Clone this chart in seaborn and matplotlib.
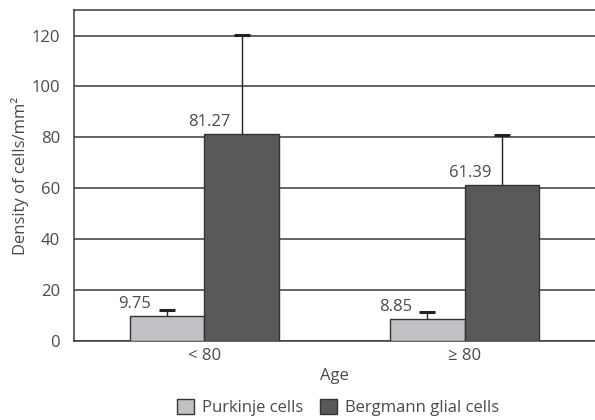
import matplotlib
matplotlib.use("Agg")
import matplotlib.pyplot as plt
import pandas as pd
import seaborn as sns

# values
age_groups = ["< 80", "≥ 80"]
cell_types = ["Purkinje cells", "Bergmann glial cells"]
purkinje_mean = [9.75, 8.85]
purkinje_err = [2.4, 2.6]
bergmann_mean = [81.27, 61.39]
bergmann_err = [39.0, 19.4]
y_ticks = [0, 20, 40, 60, 80, 100, 120]

df = pd.DataFrame({
    "Age": age_groups * 2,
    "cell": [cell_types[0]] * 2 + [cell_types[1]] * 2,
    "mean": purkinje_mean + bergmann_mean,
    "err": purkinje_err + bergmann_err,
})

sns.set_style("white")
plt.rcParams["font.family"] = ["Open Sans", "DejaVu Sans"]
text_color = "#4a4a4a"
line_color = "#3a3a3a"
fs = 12

fig = plt.figure(figsize=(5.95, 4.2), dpi=100)
ax = fig.add_axes([74 / 595, 0.188, 1 - 74 / 595, 0.788])

palette = {cell_types[0]: "#c0c1c4", cell_types[1]: "#58595b"}
sns.barplot(data=df, x="Age", y="mean", hue="cell", hue_order=cell_types,
            order=age_groups, palette=palette, width=0.573, errorbar=None,
            edgecolor="#333333", linewidth=1.0, saturation=1, ax=ax,
            legend=True, zorder=3)

for cell, container in zip(cell_types, ax.containers):
    sub = df[df["cell"] == cell].set_index("Age").loc[age_groups]
    for patch, m, e in zip(container.patches, sub["mean"], sub["err"]):
        xc = patch.get_x() + patch.get_width() / 2
        _, caps, _ = ax.errorbar([xc], [m], yerr=[[0], [e]], fmt="none",
                                 ecolor="#222222", elinewidth=1.0, capsize=6,
                                 capthick=2.2, zorder=2)
        caps[0].set_visible(False)
        ax.text(xc - 0.123, m + 1.5, f"{m:.2f}", ha="center", va="bottom",
                fontsize=fs, color=text_color)

ax.set_xlim(-0.5, 1.5)
ax.set_ylim(0, 130)
ax.set_yticks(y_ticks)
ax.yaxis.grid(True, color=line_color, linewidth=1.1, zorder=0)
ax.set_axisbelow(True)

ax.set_xticks([-0.5, 0.5, 1.5], minor=True)
ax.tick_params(axis="x", which="major", length=0, pad=5, labelsize=fs,
               labelcolor=text_color)
ax.tick_params(axis="x", which="minor", length=6, width=1.1, color=line_color,
               direction="out")
ax.tick_params(axis="y", length=7, width=1.1, color=line_color, direction="out",
               labelsize=fs, labelcolor=text_color, pad=3)

for side in ["left", "bottom", "top"]:
    ax.spines[side].set_color(line_color)
    ax.spines[side].set_linewidth(1.1)
ax.spines["right"].set_visible(False)

ax.set_xlabel("Age", fontsize=fs, color=text_color, labelpad=3)
ax.set_ylabel("Density of cells/mm²", fontsize=fs, color=text_color, labelpad=2)

handles, labels = ax.get_legend_handles_labels()
ax.get_legend().remove()
fig.legend(handles, labels, loc="center", bbox_to_anchor=(0.568, 0.029),
           ncol=2, frameon=False, fontsize=fs, handlelength=1.0,
           handleheight=1.0, handletextpad=0.5, columnspacing=1.0,
           labelcolor=text_color)

fig.savefig("out.png", dpi=100)
